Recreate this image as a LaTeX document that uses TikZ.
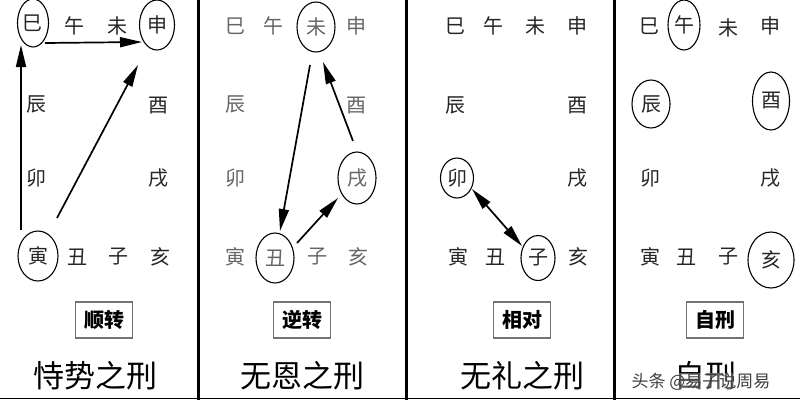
\documentclass[tikz,border=0pt]{standalone}
\usepackage{fontspec}
\setmainfont{Noto Sans CJK SC}
\usetikzlibrary{arrows.meta,shapes.geometric,calc}
\begin{document}
\begin{tikzpicture}[x=1pt,y=-1pt,
  zhi/.style={font=\fontsize{20}{20}\selectfont, inner sep=0pt, text=black!85},
  hui/.style={zhi, text=black!60},
  quan/.style={zhi, draw, ellipse, line width=1.1pt},
  jian/.tip={Triangle[length=22pt,width=10pt]},
  arr/.style={line width=1.7pt, -jian},
  darr/.style={line width=1.7pt, jian-jian},
  biaoqian/.style={draw=black!55, line width=1.2pt, minimum width=57pt, minimum height=36pt, inner sep=0pt, font=\fontsize{20}{20}\selectfont\bfseries},
  biaoti/.style={font=\fontsize{31}{31}\selectfont, inner sep=0pt},
  fenge/.style={line width=3pt, black}]
\useasboundingbox (0,0) rectangle (800,400);
\fill[white] (0,0) rectangle (800,400);
% dividers
\draw[fenge] (198,0) -- (198,400);
\draw[fenge] (406,0) -- (406,400);
\draw[fenge] (614,0) -- (614,400);
\draw[line width=1.5pt] (0,398.5) -- (800,398.5);

% ---------- Panel 1 ----------
\node[quan, minimum width=31pt, minimum height=48pt] (p1si) at (33,23) {巳};
\node[zhi] (p1wu) at (74,26) {午};
\node[zhi] (p1wei) at (117,26) {未};
\node[quan, minimum width=35pt, minimum height=50pt] (p1shen) at (157,25) {申};
\node[zhi] (p1chen) at (37,104) {辰};
\node[zhi] (p1you) at (158,106) {酉};
\node[zhi] (p1mao) at (37,178) {卯};
\node[zhi] (p1xu) at (158,178) {戌};
\node[quan, minimum width=40pt, minimum height=50pt] (p1yin) at (38,256) {寅};
\node[zhi] (p1chou) at (77,257) {丑};
\node[zhi] (p1zi) at (118,257) {子};
\node[zhi] (p1hai) at (160,257) {亥};
\draw[arr] ($(p1yin)+(-17,-26)$) -- ($(p1si)+(-12,22)$);
\draw[arr] ($(p1si)+(12,20)$) -- ($(p1shen)+(-15,17)$);
\draw[arr] ($(p1yin)+(19,-38)$) -- ($(p1shen)+(-19,40)$);
\node[biaoqian] (p1box) at (104,320) {顺转};
\node[biaoti] (p1title) at (95,376) {恃势之刑};

% ---------- Panel 2 ----------
\node[hui] (p2si) at (235,26) {巳};
\node[hui] (p2wu) at (273,26) {午};
\node[quan, text=black!60, minimum width=38pt, minimum height=50pt] (p2wei) at (316,27) {未};
\node[hui] (p2shen) at (356,26) {申};
\node[hui] (p2chen) at (235,104) {辰};
\node[hui] (p2you) at (356,106) {酉};
\node[hui] (p2mao) at (235,178) {卯};
\node[quan, text=black!60, minimum width=38pt, minimum height=52pt] (p2xu) at (357,178) {戌};
\node[hui] (p2yin) at (235,257) {寅};
\node[quan, text=black!60, minimum width=38pt, minimum height=50pt] (p2chou) at (275,258) {丑};
\node[hui] (p2zi) at (317,257) {子};
\node[hui] (p2hai) at (358,257) {亥};
\draw[arr] ($(p2wei)+(-6,38)$) -- ($(p2chou)+(5,-27)$);
\draw[arr] ($(p2chou)+(22,-15)$) -- ($(p2xu)+(-19,20)$);
\draw[arr] ($(p2xu)+(-4,-37)$) -- ($(p2wei)+(7,35)$);
\node[biaoqian] (p2box) at (302,320) {逆转};
\node[biaoti] (p2title) at (302,376) {无恩之刑};

% ---------- Panel 3 ----------
\node[zhi] (p3si) at (455,26) {巳};
\node[zhi] (p3wu) at (493,26) {午};
\node[zhi] (p3wei) at (535,26) {未};
\node[zhi] (p3shen) at (577,26) {申};
\node[zhi] (p3chen) at (455,105) {辰};
\node[zhi] (p3you) at (577,106) {酉};
\node[quan, minimum width=33pt, minimum height=40pt] (p3mao) at (457,178) {卯};
\node[zhi] (p3xu) at (577,178) {戌};
\node[zhi] (p3yin) at (458,257) {寅};
\node[zhi] (p3chou) at (495,257) {丑};
\node[quan, minimum width=34pt, minimum height=45pt] (p3zi) at (538,258) {子};
\node[zhi] (p3hai) at (578,257) {亥};
\draw[darr] ($(p3mao)+(15,11)$) -- ($(p3zi)+(-16,-12)$);
\node[biaoqian] (p3box) at (522,320) {相对};
\node[biaoti] (p3title) at (522,376) {无礼之刑};

% ---------- Panel 4 ----------
\node[zhi] (p4si) at (649,26) {巳};
\node[quan, minimum width=32pt, minimum height=50pt] (p4wu) at (684,25) {午};
\node[zhi] (p4wei) at (728,28) {未};
\node[zhi] (p4shen) at (770,26) {申};
\node[quan, minimum width=38pt, minimum height=48pt] (p4chen) at (651,104) {辰};
\node[quan, minimum width=37pt, minimum height=58pt] (p4you) at (771,101) {酉};
\node[zhi] (p4mao) at (650,178) {卯};
\node[zhi] (p4xu) at (770,178) {戌};
\node[zhi] (p4yin) at (650,257) {寅};
\node[zhi] (p4chou) at (686,257) {丑};
\node[zhi] (p4zi) at (728,257) {子};
\node[quan, minimum width=46pt, minimum height=56pt] (p4hai) at (771,260) {亥};
\node[biaoqian] (p4box) at (715,320) {自刑};
\node[biaoti] (p4title) at (705,376) {自刑};
\node[inner sep=0pt, font=\fontsize{17}{17}\selectfont, text=black!75, fill=white, fill opacity=0.35, text opacity=1] (p4mark) at (701,382) {头条 @易子说周易};
\end{tikzpicture}
\end{document}
